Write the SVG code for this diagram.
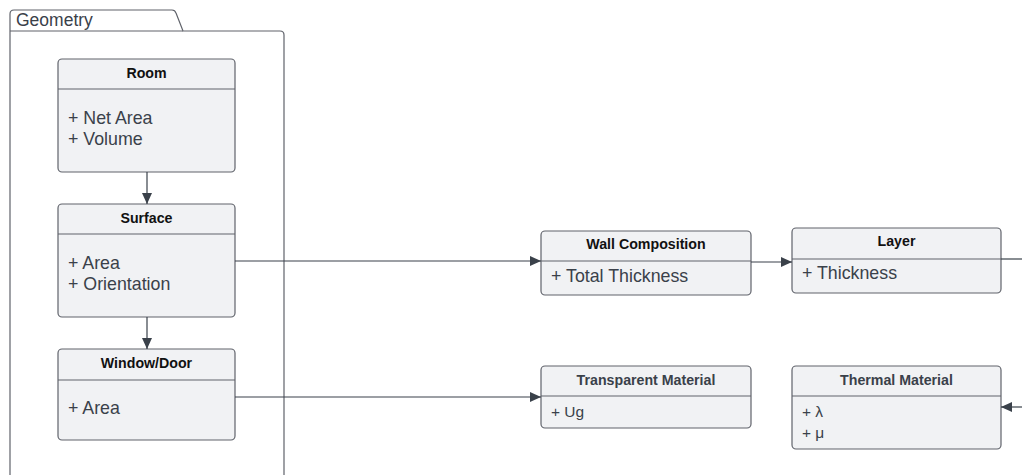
<svg xmlns="http://www.w3.org/2000/svg" width="1022" height="476" viewBox="0 0 1022 476">
<defs>
<style>
.box{fill:#f1f2f4;stroke:#60636b;stroke-width:1.2}
.div{stroke:#60636b;stroke-width:1.2}
.t{font-family:"Liberation Sans",Arial,sans-serif;font-weight:bold;font-size:14.2px;fill:#111;text-anchor:middle}
.g{fill:#3a414a}
.a{font-family:"Liberation Sans",Arial,sans-serif;font-size:17.8px;fill:#3a414a}
.s{font-family:"Liberation Sans",Arial,sans-serif;font-size:15.5px;fill:#3a414a}
.c{fill:none;stroke:#3a414a;stroke-width:1.2}
.pk{fill:#ffffff;stroke:#60636b;stroke-width:1.2}
</style>
<marker id="arr" markerWidth="12" markerHeight="10" refX="11" refY="5" orient="auto" markerUnits="userSpaceOnUse">
<path d="M0,0 L11,5 L0,10 Z" fill="#3a414a"/>
</marker>
</defs>
<rect width="1022" height="476" fill="#ffffff"/>
<g id="geometry">
<path class="pk" d="M10,475 L10,14 Q10,10 14,10 L172,10 Q175,10 176,13 L183,31 L280,31 Q284,31 284,35 L284,475"/>
<line class="div" x1="10" y1="31" x2="183" y2="31"/>
<text x="16" y="26" font-family="Liberation Sans,Arial,sans-serif" font-size="17.5" fill="#3a414a">Geometry</text>
</g>
<g id="room">
<rect class="box" x="58" y="59" width="177" height="113" rx="4"/>
<line class="div" x1="58" y1="89" x2="235" y2="89"/>
<text class="t" x="146.5" y="78">Room</text>
<text class="a" x="68" y="124">+ Net Area</text>
<text class="a" x="68" y="145">+ Volume</text>
</g>
<g id="surface">
<rect class="box" x="58" y="204" width="177" height="113" rx="4"/>
<line class="div" x1="58" y1="234" x2="235" y2="234"/>
<text class="t" x="146.5" y="223">Surface</text>
<text class="a" x="68" y="269">+ Area</text>
<text class="a" x="68" y="290">+ Orientation</text>
</g>
<g id="window-door">
<rect class="box" x="58" y="349" width="177" height="91" rx="4"/>
<line class="div" x1="58" y1="380" x2="235" y2="380"/>
<text class="t" x="146.5" y="368">Window/Door</text>
<text class="a" x="68" y="414">+ Area</text>
</g>
<g id="wall-composition">
<rect class="box" x="541" y="231" width="210" height="64" rx="4"/>
<line class="div" x1="541" y1="261" x2="751" y2="261"/>
<text class="t" x="646" y="249">Wall Composition</text>
<text class="a" x="551" y="282">+ Total Thickness</text>
</g>
<g id="layer">
<rect class="box" x="792" y="228" width="209" height="65" rx="4"/>
<line class="div" x1="792" y1="259" x2="1001" y2="259"/>
<text class="t" x="896.5" y="246">Layer</text>
<text class="a" x="802" y="279">+ Thickness</text>
</g>
<g id="transparent-material">
<rect class="box" x="541" y="366" width="210" height="62" rx="4"/>
<line class="div" x1="541" y1="396" x2="751" y2="396"/>
<text class="t g" x="646" y="385">Transparent Material</text>
<text class="s" x="551" y="417">+ Ug</text>
</g>
<g id="thermal-material">
<rect class="box" x="792" y="366" width="209" height="83" rx="4"/>
<line class="div" x1="792" y1="396" x2="1001" y2="396"/>
<text class="t g" x="896.5" y="385">Thermal Material</text>
<text class="s" x="802" y="417">+ λ</text>
<text class="s" x="802" y="438">+ μ</text>
</g>
<g id="connectors">
<line class="c" x1="147" y1="172" x2="147" y2="204" marker-end="url(#arr)"/>
<line class="c" x1="147" y1="317" x2="147" y2="349" marker-end="url(#arr)"/>
<line class="c" x1="235" y1="261" x2="541" y2="261" marker-end="url(#arr)"/>
<line class="c" x1="751" y1="262" x2="792" y2="262" marker-end="url(#arr)"/>
<line class="c" x1="235" y1="397" x2="541" y2="397" marker-end="url(#arr)"/>
<line class="c" x1="1001" y1="259" x2="1022" y2="259"/>
<line class="c" x1="1022" y1="407" x2="1001" y2="407" marker-end="url(#arr)"/>
</g>
</svg>
